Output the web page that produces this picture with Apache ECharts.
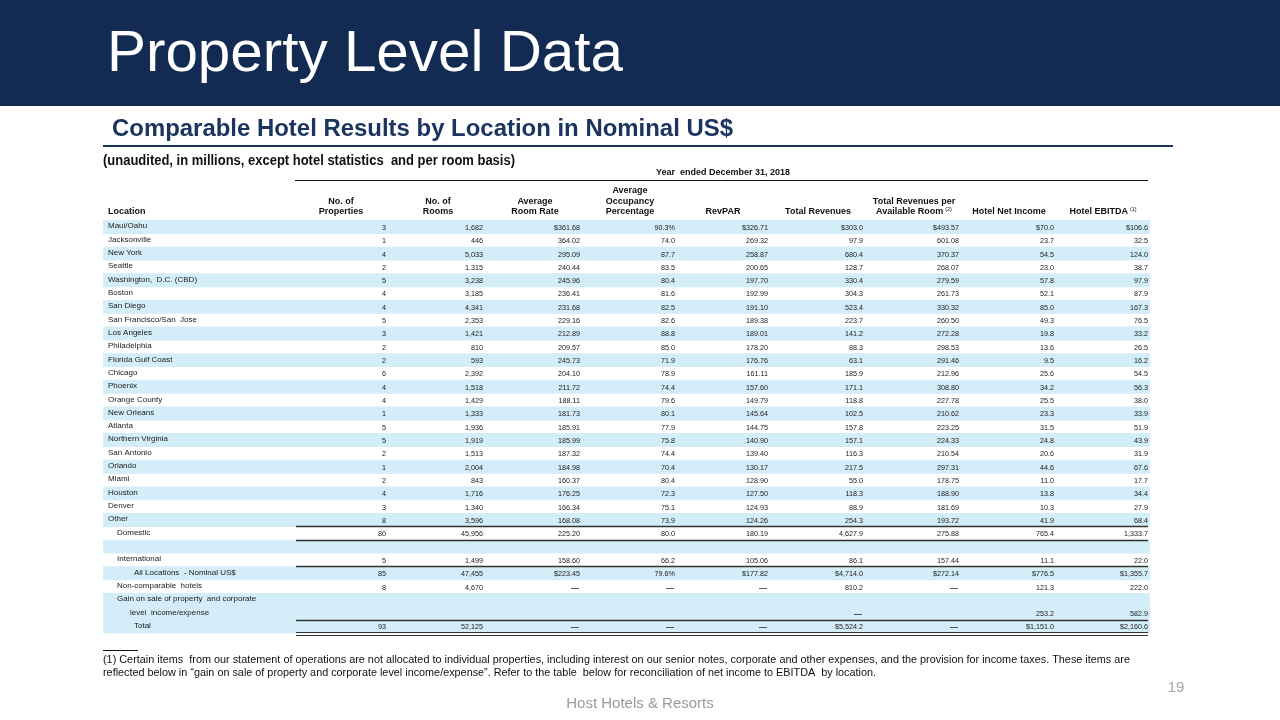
<!DOCTYPE html>
<html><head><meta charset="utf-8">
<script src="https://cdn.jsdelivr.net/npm/echarts@6/dist/echarts.min.js"></script>
<style>html,body{margin:0;padding:0;background:#fff}#c{width:1280px;height:720px}</style>
</head><body><div id="c"></div>
<script>
// ---------------- DATA ----------------
const locations = ['Maui/Oahu','Jacksonville','New York','Seattle','Washington,  D.C. (CBD)','Boston','San Diego','San Francisco/San  Jose','Los Angeles','Philadelphia','Florida Gulf Coast','Chicago','Phoenix','Orange County','New Orleans','Atlanta','Northern Virginia','San Antonio','Orlando','Miami','Houston','Denver','Other','Domestic','','International','All Locations  - Nominal US$','Non-comparable  hotels','Gain on sale of property  and corporate','level  income/expense','Total'];
const labelLevel = [0,0,0,0,0,0,0,0,0,0,0,0,0,0,0,0,0,0,0,0,0,0,0,1,1,1,3,1,1,2,3];
const properties = [3,1,4,2,5,4,4,5,3,2,2,6,4,4,1,5,5,2,1,2,4,3,8,80,null,5,85,8,null,null,93];
const rooms = [1682,446,5033,1315,3238,3185,4341,2353,1421,810,593,2392,1518,1429,1333,1936,1919,1513,2004,843,1716,1340,3596,45956,null,1499,47455,4670,null,null,52125];
const roomRate = [361.68,364.02,295.09,240.44,245.96,236.41,231.68,229.16,212.89,209.57,245.73,204.10,211.72,188.11,181.73,185.91,185.99,187.32,184.98,160.37,176.25,166.34,168.08,225.20,null,158.60,223.45,'—',null,null,'—'];
const occupancy = [90.3,74.0,87.7,83.5,80.4,81.6,82.5,82.6,88.8,85.0,71.9,78.9,74.4,79.6,80.1,77.9,75.8,74.4,70.4,80.4,72.3,75.1,73.9,80.0,null,66.2,79.6,'—',null,null,'—'];
const revpar = [326.71,269.32,258.87,200.65,197.70,192.99,191.10,189.38,189.01,178.20,176.76,161.11,157.60,149.79,145.64,144.75,140.90,139.40,130.17,128.90,127.50,124.93,124.26,180.19,null,105.06,177.82,'—',null,null,'—'];
const totalRevenues = [303.0,97.9,680.4,128.7,330.4,304.3,523.4,223.7,141.2,88.3,63.1,185.9,171.1,118.8,102.5,157.8,157.1,116.3,217.5,55.0,118.3,88.9,254.3,4627.9,null,86.1,4714.0,810.2,null,'—',5524.2];
const revPerRoom = [493.57,601.08,370.37,268.07,279.59,261.73,330.32,260.50,272.28,298.53,291.46,212.96,308.80,227.78,210.62,223.25,224.33,210.54,297.31,178.75,188.90,181.69,193.72,275.88,null,157.44,272.14,'—',null,null,'—'];
const netIncome = [70.0,23.7,54.5,23.0,57.8,52.1,85.0,49.3,19.8,13.6,9.5,25.6,34.2,25.5,23.3,31.5,24.8,20.6,44.6,11.0,13.8,10.3,41.9,765.4,null,11.1,776.5,121.3,null,253.2,1151.0];
const ebitda = [106.6,32.5,124.0,38.7,97.9,87.9,167.3,76.5,33.2,26.5,16.2,54.5,56.3,38.0,33.9,51.9,43.9,31.9,67.6,17.7,34.4,27.9,68.4,1333.7,null,22.0,1355.7,222.0,null,582.9,2160.6];
const dollarRows = [0,26,30];
const percentRows = [0,26];
const headerCols = [['No. of','Properties'],['No. of','Rooms'],['Average','Room Rate'],['Average','Occupancy','Percentage'],['RevPAR'],['Total Revenues'],['Total Revenues per','Available Room'],['Hotel Net Income'],['Hotel EBITDA']];
const headerNotes = [null,null,null,null,null,null,'(2)',null,'(1)'];
const ruleRows = [22,23,25,29];
const doubleRuleRows = [30];

// ---------------- LAYOUT ----------------
const columns = [properties,rooms,roomRate,occupancy,revpar,totalRevenues,revPerRoom,netIncome,ebitda];
const decimals = [0,0,2,1,2,1,2,1,1];
const dollarCols = [false,false,true,false,true,true,true,true,true];
const percentCols = [false,false,false,true,false,false,false,false,false];
const colRight = [386,483,580,675,768,863,959,1054,1148];
const levelX = [108,117,130,134];
const FONT = "'Liberation Sans', Arial, Helvetica, sans-serif";
const NAVY = '#132b52';
const BAND = '#d3edf9';
const ROWH = 13.32;
const TOP = 220;

const cv = document.createElement('canvas').getContext('2d');
function measure(t, w, s){ cv.font = w+' '+s+'px '+FONT; return cv.measureText(t).width; }
function fitText(t, x, y, w, s, target, fill){
  const sx = target / measure(t, w, s);
  return {type:'text', x:x, y:y, scaleX:sx, silent:true,
    style:{text:t, fill:fill, fontSize:s, fontWeight:w, fontFamily:FONT,
      align:'left', textAlign:'left', verticalAlign:'middle', textVerticalAlign:'middle'}};
}
function txt(t, x, y, s, w, fill, align){
  return {type:'text', x:x, y:y, silent:true, style:{text:t, fill:fill||'#1a1a1a', fontSize:s, fontWeight:w||'normal', fontFamily:FONT,
    align:align||'left', textAlign:align||'left', verticalAlign:'middle', textVerticalAlign:'middle'}};
}
function fmt(c, i){
  const v = columns[c][i];
  if (v === null || v === undefined) return '';
  if (typeof v === 'string') return v;
  let s = v.toLocaleString('en-US',{minimumFractionDigits:decimals[c], maximumFractionDigits:decimals[c]});
  if (dollarCols[c] && dollarRows.includes(i)) s = '$' + s;
  if (percentCols[c] && percentRows.includes(i)) s = s + '%';
  return s;
}

// ---------------- GRAPHICS (static text) ----------------
const graphics = [
  {type:'rect', shape:{x:0,y:0,width:1280,height:106}, style:{fill:NAVY}, silent:true},
  fitText('Property Level Data', 107, 55, 'normal', 58, 516, '#ffffff'),
  fitText('Comparable Hotel Results by Location in Nominal US$', 112, 130, 'bold', 23, 621, '#1b3560'),
  {type:'line', shape:{x1:103,y1:146,x2:1173,y2:146}, style:{stroke:'#1b3560', lineWidth:2}, silent:true},
  fitText('(unaudited, in millions, except hotel statistics  and per room basis)', 103, 161, 'bold', 14, 412, '#111'),
  txt('Year  ended December 31, 2018', 723, 173, 9, 'bold', '#111', 'center'),
  {type:'line', shape:{x1:295,y1:180.5,x2:1148,y2:180.5}, style:{stroke:'#111', lineWidth:1}, silent:true},
  txt('Location', 108, 212, 9, 'bold', '#111', 'left'),
  {type:'line', shape:{x1:103,y1:650.5,x2:138,y2:650.5}, style:{stroke:'#111', lineWidth:1}, silent:true},
  fitText('(1) Certain items  from our statement of operations are not allocated to individual properties, including interest on our senior notes, corporate and other expenses, and the provision for income taxes. These items are', 103, 660, 'normal', 11.5, 1027, '#111'),
  fitText('reflected below in \u201Cgain on sale of property and corporate level income/expense\u201D. Refer to the table  below for reconciliation of net income to EBITDA  by location.', 103, 672.5, 'normal', 11.5, 773, '#111'),
  txt('Host Hotels & Resorts', 640, 704, 15, 'normal', '#9a9a9a', 'center'),
  txt('19', 1176, 688, 15, 'normal', '#a6a6a6', 'center')
];
headerCols.forEach((lines, c) => {
  const cx = colRight[c] - 45;
  const n = lines.length;
  lines.forEach((l, k) => {
    const y = 212 - (n - 1 - k) * 10.5;
    if (k === n - 1 && headerNotes[c]) {
      const w1 = measure(l, 'bold', 9), w2 = measure(headerNotes[c], 'normal', 5.5);
      const x0 = cx - (w1 + 2 + w2) / 2;
      graphics.push(txt(l, x0, y, 9, 'bold', '#111', 'left'));
      graphics.push(txt(headerNotes[c], x0 + w1 + 2, y - 2.5, 5.5, 'normal', '#111', 'left'));
    } else {
      graphics.push(txt(l, cx, y, 9, 'bold', '#111', 'center'));
    }
  });
});

// ---------------- SERIES ----------------
const rowIdx = locations.map((_, i) => i);
const series = [];
// bands
series.push({type:'custom', silent:true, z:1, data: rowIdx.map(i => [103, i]),
  renderItem: (p, api) => {
    const i = api.value(1);
    if (!(i % 2 === 0 || i === 29)) return null;
    const a = api.coord([103, i]), b = api.coord([1150, i]);
    const h = api.size([0, 1])[1];
    return {type:'rect', shape:{x:a[0], y:a[1]-h/2, width:b[0]-a[0], height:h+0.6}, style:{fill:BAND}};
  }});
// location labels
series.push({type:'custom', silent:true, z:3, data: locations.map((l, i) => [levelX[labelLevel[i]], i]),
  renderItem: (p, api) => {
    const i = p.dataIndex;
    const pt = api.coord([api.value(0), api.value(1)]);
    return {type:'text', x:pt[0], y:pt[1]-0.5, style:{text:locations[i], fill:'#1a1a1a', fontSize:8, fontFamily:FONT,
      align:'left', textAlign:'left', verticalAlign:'middle', textVerticalAlign:'middle'}};
  }});
// numeric columns
columns.forEach((arr, c) => {
  series.push({type:'custom', silent:true, z:3, data: arr.map((v, i) => [colRight[c], i]),
    renderItem: (p, api) => {
      const i = p.dataIndex;
      const s = fmt(c, i);
      if (!s) return null;
      const pt = api.coord([api.value(0), api.value(1)]);
      const dash = s === '—';
      return {type:'text', x:pt[0] - (dash ? 1 : 0), y:pt[1]+1, scaleX: dash ? 1 : 0.9,
        style:{text:s, fill:'#1a1a1a', fontSize:8, fontWeight: dash ? 'bold' : 'normal', fontFamily:FONT,
        align:'right', textAlign:'right', verticalAlign:'middle', textVerticalAlign:'middle'}};
    }});
});
// rules
series.push({type:'custom', silent:true, z:4, data: ruleRows.concat(doubleRuleRows).map(i => [296, i]),
  renderItem: (p, api) => {
    const i = api.value(1);
    const a = api.coord([296, i]), b = api.coord([1148, i]);
    const h = api.size([0, 1])[1];
    const y = Math.round(a[1] + h/2) + 0.5;
    if (doubleRuleRows.includes(i)) {
      return {type:'group', children:[
        {type:'line', shape:{x1:a[0],y1:y-1,x2:b[0],y2:y-1}, style:{stroke:'#333', lineWidth:1}},
        {type:'line', shape:{x1:a[0],y1:y+2,x2:b[0],y2:y+2}, style:{stroke:'#333', lineWidth:1}}
      ]};
    }
    return {type:'line', shape:{x1:a[0],y1:y,x2:b[0],y2:y}, style:{stroke:'#333', lineWidth:1.5}};
  }});

const chart = echarts.init(document.getElementById('c'), null, {renderer:'canvas'});
chart.setOption({
  animation:false,
  backgroundColor:'#ffffff',
  grid:{left:0, right:0, top:TOP, height:ROWH*locations.length},
  xAxis:{type:'value', min:0, max:1280, show:false},
  yAxis:{type:'category', data:locations, inverse:true, show:false},
  graphic:graphics,
  series:series
});
</script></body></html>
